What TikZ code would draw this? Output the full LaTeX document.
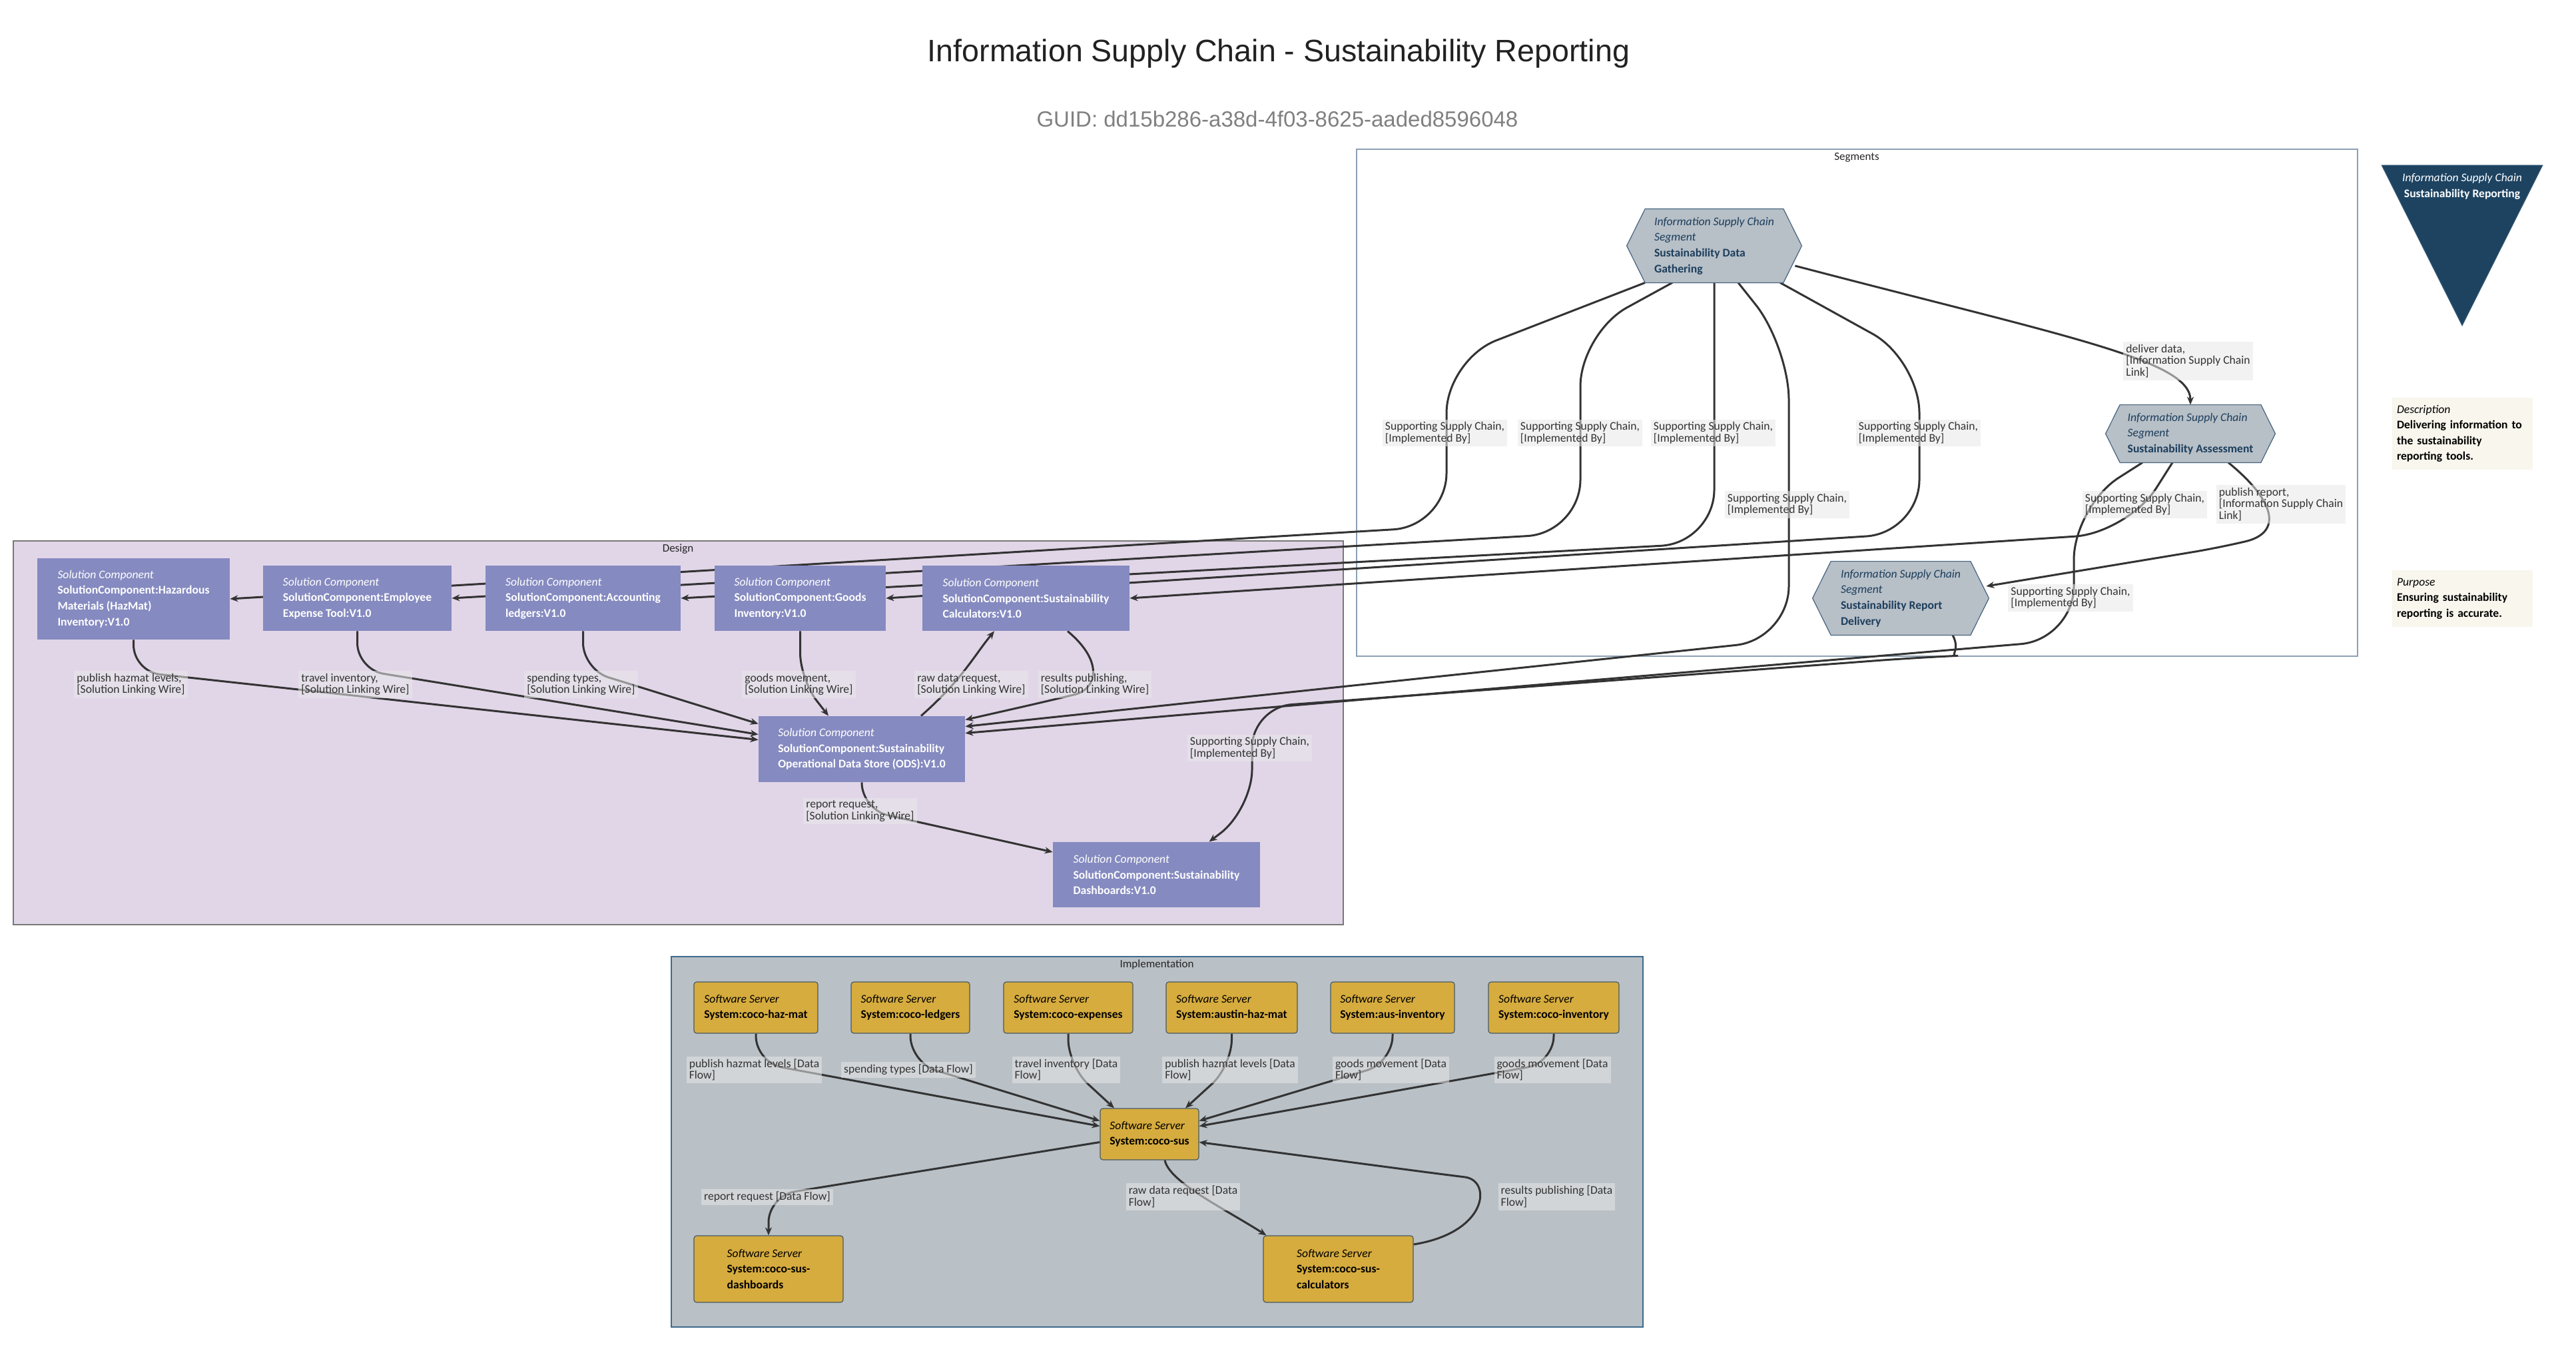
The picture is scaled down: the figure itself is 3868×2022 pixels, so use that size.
\documentclass[tikz,border=0pt]{standalone}
\usepackage{fontspec}
\setmainfont{Carlito}
\newfontfamily\titlefont{Liberation Sans}
\usetikzlibrary{arrows.meta, calc}

\definecolor{linkgray}{HTML}{333333}
\definecolor{solfill}{HTML}{858AC0}
\definecolor{designfill}{HTML}{E1D6E8}
\definecolor{designedge}{HTML}{787878}
\definecolor{segedge}{HTML}{8CA0B4}
\definecolor{hexfill}{HTML}{B7BFC7}
\definecolor{hexedge}{HTML}{46647F}
\definecolor{hextext}{HTML}{1C3E5C}
\definecolor{trifill}{HTML}{1D4361}
\definecolor{notefill}{HTML}{F8F6ED}
\definecolor{implfill}{HTML}{B9C0C6}
\definecolor{impledge}{HTML}{3E6A8C}
\definecolor{srvfill}{HTML}{D6AC3E}
\definecolor{srvedge}{HTML}{465A64}
\definecolor{labelfill}{HTML}{E8E8E8}

\pgfdeclarelayer{bg}
\pgfdeclarelayer{wires}
\pgfdeclarelayer{hexes}
\pgfsetlayers{bg,wires,hexes,main}

\tikzset{
  boxfont/.style={font=\fontsize{8.8pt}{11.8pt}\selectfont},
  solcomp/.style={boxfont, fill=solfill, text=white, align=left, inner sep=0pt},
  seghex/.style={boxfont, text=hextext, align=left, inner sep=0pt},
  hexshape/.style={draw=hexedge, line width=0.6pt, fill=hexfill},
  server/.style={boxfont, fill=srvfill, draw=srvedge, line width=0.6pt, rounded corners=2pt, align=left, inner sep=0pt},
  note/.style={boxfont, fill=notefill, align=left, inner xsep=3.5pt, inner ysep=0pt},
  clustername/.style={font=\fontsize{8.5pt}{9pt}\selectfont, text=black!85},
  link/.style={draw=linkgray, line width=1.5pt, -{Stealth[length=6pt,width=5pt]}, rounded corners=#1},
  link/.default=20pt,
  linklabel/.style={font=\fontsize{8.8pt}{8.8pt}\selectfont, text=linkgray, fill=labelfill, fill opacity=0.55, text opacity=1, align=left, inner xsep=2pt, inner ysep=2pt}
}

\begin{document}
\begin{tikzpicture}[x=0.5pt, y=-0.5pt]
		\useasboundingbox (0,0) rectangle (3868,2022);

		% Title and guid
		\node[font={\titlefont\fontsize{23.3pt}{28pt}\selectfont}, text=black!87, anchor=base] (title) at (1920,93) {Information Supply Chain - Sustainability Reporting};
		\node[font={\titlefont\fontsize{16.5pt}{20pt}\selectfont}, text=black!50, anchor=base] (guid) at (1918,191) {GUID: dd15b286-a38d-4f03-8625-aaded8596048};

		% Draw the three clusters
		\begin{pgfonlayer}{bg}
			\draw[draw=segedge, fill=white, line width=1pt] (2037,224) rectangle (3540,985);
			\draw[draw=designedge, fill=designfill, line width=1pt] (20,812) rectangle (2017,1388);
			\draw[draw=impledge, fill=implfill, line width=1pt] (1008,1436) rectangle (2467,1992);
		\end{pgfonlayer}
		\node[clustername] (segname) at (2788,236) {Segments};
		\node[clustername] (designname) at (1018,824) {Design};
		\node[clustername] (implname) at (1737,1448) {Implementation};

		% Segments
		\node[seghex, minimum width=131pt, minimum height=55pt] (gathering) at (2574,369) {\textit{Information Supply Chain}\\\textit{Segment}\\\textbf{Sustainability Data}\\\textbf{Gathering}};
		\node[seghex, minimum width=127pt, minimum height=43pt] (assessment) at (3289,651) {\textit{Information Supply Chain}\\\textit{Segment}\\\textbf{Sustainability Assessment}};
		\node[seghex, minimum width=132pt, minimum height=55pt] (delivery) at (2854,898) {\textit{Information Supply Chain}\\\textit{Segment}\\\textbf{Sustainability Report}\\\textbf{Delivery}};
		\begin{pgfonlayer}{hexes}
			\draw[hexshape] ([xshift=13.75pt]gathering.north west) -- ([xshift=-13.75pt]gathering.north east) -- (gathering.east) -- ([xshift=-13.75pt]gathering.south east) -- ([xshift=13.75pt]gathering.south west) -- (gathering.west) -- cycle;
			\draw[hexshape] ([xshift=10.75pt]assessment.north west) -- ([xshift=-10.75pt]assessment.north east) -- (assessment.east) -- ([xshift=-10.75pt]assessment.south east) -- ([xshift=10.75pt]assessment.south west) -- (assessment.west) -- cycle;
			\draw[hexshape] ([xshift=13.75pt]delivery.north west) -- ([xshift=-13.75pt]delivery.north east) -- (delivery.east) -- ([xshift=-13.75pt]delivery.south east) -- ([xshift=13.75pt]delivery.south west) -- (delivery.west) -- cycle;
		\end{pgfonlayer}

		% Supply chain triangle and notes
		\draw[fill=trifill, draw=trifill!80] (3576,248) -- (3818,248) -- (3697,489) -- cycle;
		\node[boxfont, text=white, align=center] (chainname) at (3697,280) {\textit{Information Supply Chain}\\\textbf{Sustainability Reporting}};
		\node[note, text width=98.5pt, minimum height=54pt] (description) at (3697.5,651) {\textit{Description}\\\textbf{Delivering information to}\\\textbf{the sustainability}\\\textbf{reporting tools.}};
		\node[note, text width=98.5pt, minimum height=42.5pt] (purpose) at (3697.5,898.5) {\textit{Purpose}\\\textbf{Ensuring sustainability}\\\textbf{reporting is accurate.}};

		% Solution components
		\node[solcomp, minimum width=144.5pt, minimum height=61pt] (hazmat) at (200.5,899) {\textit{Solution Component}\\\textbf{SolutionComponent:Hazardous}\\\textbf{Materials (HazMat)}\\\textbf{Inventory:V1.0}};
		\node[solcomp, minimum width=141.5pt, minimum height=49pt] (employee) at (536.5,898) {\textit{Solution Component}\\\textbf{SolutionComponent:Employee}\\\textbf{Expense Tool:V1.0}};
		\node[solcomp, minimum width=146.5pt, minimum height=49pt] (accounting) at (875.5,898) {\textit{Solution Component}\\\textbf{SolutionComponent:Accounting}\\\textbf{ledgers:V1.0}};
		\node[solcomp, minimum width=128.5pt, minimum height=49pt] (goods) at (1201.5,898) {\textit{Solution Component}\\\textbf{SolutionComponent:Goods}\\\textbf{Inventory:V1.0}};
		\node[solcomp, minimum width=155.5pt, minimum height=49pt] (calculators) at (1540.5,898) {\textit{Solution Component}\\\textbf{SolutionComponent:Sustainability}\\\textbf{Calculators:V1.0}};
		\node[solcomp, minimum width=155pt, minimum height=49.5pt] (ods) at (1294,1124.5) {\textit{Solution Component}\\\textbf{SolutionComponent:Sustainability}\\\textbf{Operational Data Store (ODS):V1.0}};
		\node[solcomp, minimum width=155.5pt, minimum height=49pt] (dashboards) at (1736.5,1313) {\textit{Solution Component}\\\textbf{SolutionComponent:Sustainability}\\\textbf{Dashboards:V1.0}};

		% Software servers
		\node[server, minimum width=93pt, minimum height=38.5pt] (hazmatsrv) at (1135,1512.5) {\textit{Software Server}\\\textbf{System:coco-haz-mat}};
		\node[server, minimum width=89pt, minimum height=38.5pt] (ledgersrv) at (1367,1512.5) {\textit{Software Server}\\\textbf{System:coco-ledgers}};
		\node[server, minimum width=97pt, minimum height=38.5pt] (expensesrv) at (1604,1512.5) {\textit{Software Server}\\\textbf{System:coco-expenses}};
		\node[server, minimum width=98.5pt, minimum height=38.5pt] (austinsrv) at (1849.5,1512.5) {\textit{Software Server}\\\textbf{System:austin-haz-mat}};
		\node[server, minimum width=93pt, minimum height=38.5pt] (ausinvsrv) at (2091,1512.5) {\textit{Software Server}\\\textbf{System:aus-inventory}};
		\node[server, minimum width=98pt, minimum height=38.5pt] (cocoinvsrv) at (2333,1512.5) {\textit{Software Server}\\\textbf{System:coco-inventory}};
		\node[server, minimum width=74pt, minimum height=38.5pt] (sussrv) at (1726,1702.5) {\textit{Software Server}\\\textbf{System:coco-sus}};
		\node[server, minimum width=112pt, minimum height=50pt] (dashsrv) at (1154,1905) {\textit{Software Server}\\\textbf{System:coco-sus-}\\\textbf{dashboards}};
		\node[server, minimum width=112.5pt, minimum height=50pt] (calcsrv) at (2009.5,1905) {\textit{Software Server}\\\textbf{System:coco-sus-}\\\textbf{calculators}};

		\begin{pgfonlayer}{wires}
			% Segment links
			\draw[link] ([shift={(-5pt,-15pt)}]gathering.east) .. controls (3100,505) and (3289,540) .. (assessment.north);
			\draw[link] ([xshift=28.5pt]assessment.south) .. controls (3420,755) and (3425,800) .. (3333,822) -- ([shift={(-2pt,9pt)}]delivery.east);

			% Segments implemented by solution components
			\draw[link=40pt] ([xshift=-52pt]gathering.south) -- (2172,540) -- (2172,790) -- (hazmat.east);
			\draw[link=40pt] ([xshift=-31.5pt]gathering.south) -- (2373,500) -- (2373,800) -- (employee.east);
			\draw[link=40pt] (gathering.south) -- (2574,815) -- (accounting.east);
			\draw[link=40pt] ([xshift=49.5pt]gathering.south) -- (2882,540) -- (2882,800) -- (goods.east);
			\draw[link=40pt] ([xshift=18pt]gathering.south) -- (2686,520) -- (2686,960) -- ([yshift=17pt]ods.east);
			\draw[link=40pt] ([xshift=-13.5pt]assessment.south) -- (3195,800) -- (calculators.east);
			\draw[link=40pt] ([xshift=-36pt]assessment.south) -- (3114,760) -- (3114,960) -- ([yshift=12pt]ods.east);
			\draw[link=30pt] ([xshift=39pt]delivery.south) .. controls (2945,978) and (2925,985) .. (2880,987) -- (1880,1062) -- (1880,1215) -- ([xshift=39.5pt]dashboards.north);

			% Solution linking wires
			\draw[link] (hazmat.south) -- (200.5,1008) -- ([yshift=7pt]ods.west);
			\draw[link] (employee.south) -- (536.5,1005) -- ([yshift=11pt]ods.west);
			\draw[link] (accounting.south) -- (875.5,1005) -- ([yshift=19pt]ods.west);
			\draw[link] (goods.south) -- (1201.5,1020) -- ([xshift=-25pt]ods.north);
			\draw[link] ([xshift=44.5pt]ods.north) .. controls (1445,1020) and (1462,985) .. ([xshift=-23.75pt]calculators.south);
			\draw[link] ([xshift=31.25pt]calculators.south) .. controls (1660,995) and (1645,1035) .. (1575,1052) -- ([yshift=22pt]ods.east);
			\draw[link] (ods.south) -- (1294,1215) -- ([yshift=17pt]dashboards.west);

			% Data flows
			\draw[link] (hazmatsrv.south) -- (1135,1595) -- ([yshift=6pt]sussrv.west);
			\draw[link] (ledgersrv.south) -- (1367,1595) -- ([yshift=10pt]sussrv.west);
			\draw[link] (expensesrv.south) -- (1604,1600) -- ([xshift=-26.5pt]sussrv.north);
			\draw[link] (austinsrv.south) -- (1849.5,1600) -- ([xshift=27pt]sussrv.north);
			\draw[link] (ausinvsrv.south) -- (2091,1595) -- ([yshift=10pt]sussrv.east);
			\draw[link] (cocoinvsrv.south) -- (2333,1595) -- ([yshift=6pt]sussrv.east);
			\draw[link] ([yshift=-6pt]sussrv.west) -- (1154,1795) -- (dashsrv.north);
			\draw[link] ([xshift=11.5pt]sussrv.south) .. controls (1756,1775) and (1840,1815) .. ([xshift=-54pt]calcsrv.north);
			\draw[link] ([yshift=18.5pt]calcsrv.east) .. controls (2235,1850) and (2240,1772) .. (2160,1762) -- ([yshift=-6pt]sussrv.east);
		\end{pgfonlayer}

		% Labels of the segment links
		\node[linklabel] (deliverlab) at (3285.5,542) {deliver data,\\{}[Information Supply Chain\\Link]};
		\node[linklabel] (publishlab) at (3425,757) {publish report,\\{}[Information Supply Chain\\Link]};
		\node[linklabel] (hazmatlab) at (2169.5,650) {Supporting Supply Chain,\\{}[Implemented By]};
		\node[linklabel] (employeelab) at (2372.5,650) {Supporting Supply Chain,\\{}[Implemented By]};
		\node[linklabel] (accountinglab) at (2572.5,650) {Supporting Supply Chain,\\{}[Implemented By]};
		\node[linklabel] (goodslab) at (2880.5,650) {Supporting Supply Chain,\\{}[Implemented By]};
		\node[linklabel] (odslab) at (2683.5,757.5) {Supporting Supply Chain,\\{}[Implemented By]};
		\node[linklabel] (calclab) at (3220.5,757.5) {Supporting Supply Chain,\\{}[Implemented By]};
		\node[linklabel] (assessodslab) at (3109,897.5) {Supporting Supply Chain,\\{}[Implemented By]};
		\node[linklabel] (dashlab) at (1876.5,1123) {Supporting Supply Chain,\\{}[Implemented By]};

		% Labels of the wires
		\node[linklabel] (wire1) at (196.5,1027.5) {publish hazmat levels,\\{}[Solution Linking Wire]};
		\node[linklabel] (wire2) at (533.5,1027.5) {travel inventory,\\{}[Solution Linking Wire]};
		\node[linklabel] (wire3) at (872.5,1027.5) {spending types,\\{}[Solution Linking Wire]};
		\node[linklabel] (wire4) at (1199.5,1027.5) {goods movement,\\{}[Solution Linking Wire]};
		\node[linklabel] (wire5) at (1458.5,1027.5) {raw data request,\\{}[Solution Linking Wire]};
		\node[linklabel] (wire6) at (1644,1027.5) {results publishing,\\{}[Solution Linking Wire]};
		\node[linklabel] (wire7) at (1291.5,1217.5) {report request,\\{}[Solution Linking Wire]};

		% Labels of the data flows
		\node[linklabel] (flow1) at (1132.5,1606) {publish hazmat levels [Data\\Flow]};
		\node[linklabel] (flow2) at (1364,1606) {spending types [Data Flow]};
		\node[linklabel] (flow3) at (1601,1606) {travel inventory [Data\\Flow]};
		\node[linklabel] (flow4) at (1847,1606) {publish hazmat levels [Data\\Flow]};
		\node[linklabel] (flow5) at (2088.5,1606) {goods movement [Data\\Flow]};
		\node[linklabel] (flow6) at (2331,1606) {goods movement [Data\\Flow]};
		\node[linklabel] (flow7) at (1152,1797) {report request [Data Flow]};
		\node[linklabel] (flow8) at (1776.5,1796.5) {raw data request [Data\\Flow]};
		\node[linklabel] (flow9) at (2337.5,1796.5) {results publishing [Data\\Flow]};

	\end{tikzpicture}
\end{document}
